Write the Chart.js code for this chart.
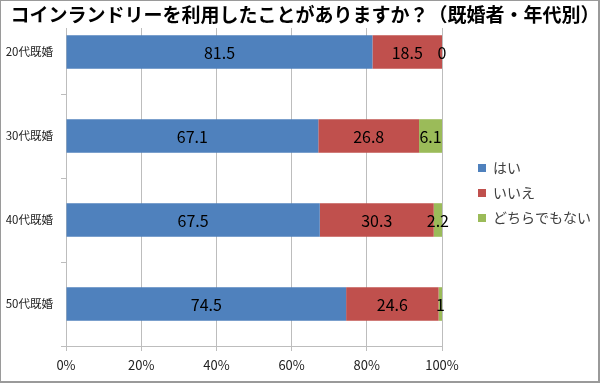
<!DOCTYPE html>
<html>
<head>
<meta charset="utf-8">
<script src="https://cdn.jsdelivr.net/npm/chart.js@4.4.1/dist/chart.umd.min.js"></script>
<style>
  html, body { margin: 0; padding: 0; background: #fff; }
  #wrap { width: 600px; height: 383px; position: relative; }
</style>
</head>
<body>
<div id="wrap"><canvas id="chart" width="600" height="383"></canvas></div>
<script>
const chartTitle = 'コインランドリーを利用したことがありますか？（既婚者・年代別）';
const categories = ['20代既婚', '30代既婚', '40代既婚', '50代既婚'];
const seriesNames = ['はい', 'いいえ', 'どちらでもない'];
const hai = [81.5, 67.1, 67.5, 74.5];
const iie = [18.5, 26.8, 30.3, 24.6];
const dochiramo = [0, 6.1, 2.2, 1];
const xTicks = [0, 20, 40, 60, 80, 100];

const colors = ['#4F81BD', '#C0504D', '#9BBB59'];
const jpFont = '"Noto Sans CJK JP", "Noto Sans", sans-serif';

// numbers in the middle of each segment
const valueLabels = {
  id: 'valueLabels',
  afterDatasetsDraw(chart) {
    const ctx = chart.ctx;
    ctx.save();
    ctx.font = '16px ' + jpFont;
    ctx.fillStyle = '#000';
    ctx.textAlign = 'center';
    ctx.textBaseline = 'middle';
    chart.data.datasets.forEach((ds, i) => {
      const meta = chart.getDatasetMeta(i);
      meta.data.forEach((el, j) => {
        const x = (el.base + el.x) / 2;
        ctx.fillText(String(ds.data[j]), x, el.y + 1);
      });
    });
    ctx.restore();
  }
};

// push the legend a bit away from the plot (excel leaves a gap there)
const legendGap = {
  id: 'legendGap',
  afterLayout(chart) {
    const lg = chart.legend;
    if (!lg) return;
    lg.left += 25;
    lg.right += 25;
  }
};

// title sits on top of the plot with a white box, plus the frame
const overlayTitle = {
  id: 'overlayTitle',
  afterDraw(chart) {
    const ctx = chart.ctx;
    ctx.save();
    ctx.fillStyle = '#fff';
    ctx.fillRect(2, 1, chart.width - 4, 27);
    ctx.font = 'bold 19px ' + jpFont;
    ctx.fillStyle = '#000';
    ctx.textAlign = 'center';
    ctx.textBaseline = 'middle';
    ctx.fillText(chartTitle, 305, 15);
    ctx.strokeStyle = '#9a9a9a';
    ctx.lineWidth = 1;
    ctx.strokeRect(0.5, 0.5, chart.width - 2, chart.height - 2);
    ctx.lineWidth = 2;
    ctx.beginPath();
    ctx.moveTo(chart.width - 1, 0);
    ctx.lineTo(chart.width - 1, chart.height);
    ctx.moveTo(0, chart.height - 1);
    ctx.lineTo(chart.width, chart.height - 1);
    ctx.stroke();
    ctx.restore();
  }
};

new Chart(document.getElementById('chart'), {
  type: 'bar',
  data: {
    labels: categories,
    datasets: [
      { label: seriesNames[0], data: hai, backgroundColor: colors[0] },
      { label: seriesNames[1], data: iie, backgroundColor: colors[1] },
      { label: seriesNames[2], data: dochiramo, backgroundColor: colors[2] }
    ]
  },
  options: {
    indexAxis: 'y',
    responsive: false,
    animation: false,
    barPercentage: 0.4,
    categoryPercentage: 1,
    layout: { padding: { top: 10, left: 6, right: 24, bottom: 7 } },
    scales: {
      x: {
        stacked: true,
        min: 0,
        max: 100,
        afterBuildTicks: (s) => { s.ticks = xTicks.map(v => ({ value: v })); },
        afterFit: (s) => { s.height = 30; },
        grid: { color: '#bdbdbd', tickLength: 5 },
        border: { color: '#bdbdbd' },
        ticks: {
          padding: 6,
          color: '#222',
          font: { family: jpFont, size: 13 },
          callback: (v) => v + '%'
        }
      },
      y: {
        stacked: true,
        afterFit: (s) => {
          s.width = 60;
          s.paddingTop = 0;
          s.paddingBottom = 0;
        },
        grid: { offset: true, drawOnChartArea: false, color: '#bdbdbd', tickLength: 5 },
        border: { color: '#bdbdbd' },
        ticks: {
          padding: 8,
          color: '#222',
          font: { family: jpFont, size: 11.5 }
        }
      }
    },
    plugins: {
      legend: {
        position: 'right',
        labels: {
          boxWidth: 8,
          boxHeight: 8,
          padding: 11,
          color: '#404040',
          font: { family: jpFont, size: 14 }
        }
      },
      tooltip: { enabled: false }
    }
  },
  plugins: [valueLabels, legendGap, overlayTitle]
});
</script>
</body>
</html>
